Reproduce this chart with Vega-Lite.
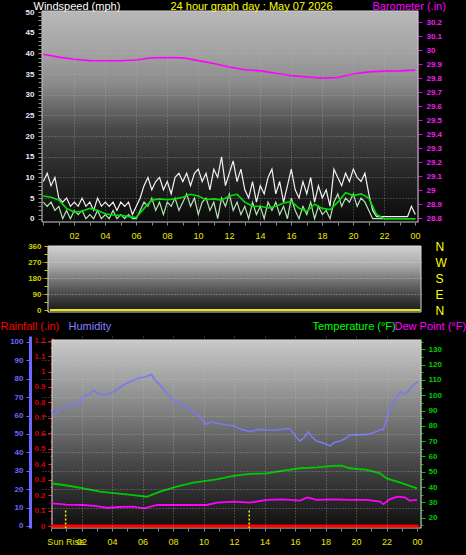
{
 "$schema": "https://vega.github.io/schema/vega-lite/v6.json",
 "background": "#000000",
 "padding": {"left": 0, "top": 0, "right": 1, "bottom": 8},
 "spacing": 24,
 "bounds": "flush",
 "config": {
  "view": {"stroke": null},
  "font": "Liberation Sans",
  "axis": {"labelFont": "Liberation Sans", "titleFont": "Liberation Sans", "labelOverlap": false, "labelFlush": false, "titleFontWeight": "normal", "labelFontWeight": "normal", "domain": false, "grid": false}
 },
 "datasets": {
  "wind": [
   {"h":0,"gust":9,"speed":4},{"h":0.25,"gust":11,"speed":3},{"h":0.5,"gust":8,"speed":4},{"h":0.75,"gust":10,"speed":2},
   {"h":1,"gust":5,"speed":3},{"h":1.25,"gust":4,"speed":0},{"h":1.5,"gust":5,"speed":2},{"h":1.75,"gust":3,"speed":0},
   {"h":2,"gust":4,"speed":2},{"h":2.25,"gust":3,"speed":1},{"h":2.5,"gust":5,"speed":2},{"h":2.75,"gust":3,"speed":0},
   {"h":3,"gust":4,"speed":1},{"h":3.25,"gust":2,"speed":0},{"h":3.5,"gust":5,"speed":2},{"h":3.75,"gust":3,"speed":0},
   {"h":4,"gust":4,"speed":1},{"h":4.25,"gust":3,"speed":0},{"h":4.5,"gust":4,"speed":2},{"h":4.75,"gust":2,"speed":0},
   {"h":5,"gust":4,"speed":1},{"h":5.25,"gust":3,"speed":0},{"h":5.5,"gust":4,"speed":1},{"h":5.75,"gust":1,"speed":0},
   {"h":6,"gust":3,"speed":0},{"h":6.25,"gust":5,"speed":2},{"h":6.5,"gust":8,"speed":4},{"h":6.75,"gust":10,"speed":3},
   {"h":7,"gust":7,"speed":5},{"h":7.25,"gust":9,"speed":2},{"h":7.5,"gust":10,"speed":4},{"h":7.75,"gust":7,"speed":1},
   {"h":8,"gust":9,"speed":4},{"h":8.25,"gust":6,"speed":3},{"h":8.5,"gust":10,"speed":5},{"h":8.75,"gust":11,"speed":2},
   {"h":9,"gust":9,"speed":4},{"h":9.25,"gust":11,"speed":6},{"h":9.5,"gust":8,"speed":3},{"h":9.75,"gust":11,"speed":5},
   {"h":10,"gust":12,"speed":1},{"h":10.25,"gust":9,"speed":4},{"h":10.5,"gust":11,"speed":5},{"h":10.75,"gust":7,"speed":2},
   {"h":11,"gust":12,"speed":4},{"h":11.25,"gust":10,"speed":0},{"h":11.5,"gust":15,"speed":5},{"h":11.75,"gust":8,"speed":3},
   {"h":12,"gust":11,"speed":6},{"h":12.25,"gust":14,"speed":2},{"h":12.5,"gust":9,"speed":4},{"h":12.75,"gust":12,"speed":1},
   {"h":13,"gust":7,"speed":3},{"h":13.25,"gust":5,"speed":0},{"h":13.5,"gust":9,"speed":4},{"h":13.75,"gust":4,"speed":1},
   {"h":14,"gust":8,"speed":3},{"h":14.25,"gust":6,"speed":0},{"h":14.5,"gust":10,"speed":4},{"h":14.75,"gust":12,"speed":2},
   {"h":15,"gust":6,"speed":4},{"h":15.25,"gust":9,"speed":1},{"h":15.5,"gust":4,"speed":3},{"h":15.75,"gust":8,"speed":0},
   {"h":16,"gust":12,"speed":5},{"h":16.25,"gust":7,"speed":2},{"h":16.5,"gust":5,"speed":0},{"h":16.75,"gust":9,"speed":3},
   {"h":17,"gust":6,"speed":1},{"h":17.25,"gust":10,"speed":4},{"h":17.5,"gust":4,"speed":0},{"h":17.75,"gust":8,"speed":3},
   {"h":18,"gust":5,"speed":1},{"h":18.25,"gust":7,"speed":2},{"h":18.5,"gust":3,"speed":0},{"h":18.75,"gust":12,"speed":4},
   {"h":19,"gust":10,"speed":6},{"h":19.25,"gust":8,"speed":3},{"h":19.5,"gust":11,"speed":5},{"h":19.75,"gust":9,"speed":4},
   {"h":20,"gust":12,"speed":6},{"h":20.25,"gust":10,"speed":3},{"h":20.5,"gust":9,"speed":5},{"h":20.75,"gust":11,"speed":4},
   {"h":21,"gust":6,"speed":2},{"h":21.25,"gust":2,"speed":0},{"h":21.5,"gust":0.5,"speed":0},{"h":21.75,"gust":0.5,"speed":0},
   {"h":22,"gust":0.5,"speed":0},{"h":22.25,"gust":0.5,"speed":0},{"h":22.5,"gust":0.5,"speed":0},{"h":22.75,"gust":0.5,"speed":0},
   {"h":23,"gust":0.5,"speed":0},{"h":23.25,"gust":0.5,"speed":0},{"h":23.5,"gust":0.5,"speed":0},{"h":23.75,"gust":3,"speed":0},
   {"h":24,"gust":1,"speed":0}
  ],
  "avg": [
   {"h":0,"avg":5.5},{"h":0.5,"avg":5.2},{"h":1,"avg":4.5},{"h":1.5,"avg":2.5},{"h":2,"avg":1.6},{"h":2.5,"avg":1.8},
   {"h":3,"avg":2.5},{"h":3.5,"avg":2.0},{"h":4,"avg":1.2},{"h":4.5,"avg":0.9},{"h":5,"avg":0.8},{"h":5.5,"avg":0.5},
   {"h":6,"avg":0.3},{"h":6.5,"avg":2.5},{"h":7,"avg":4.5},{"h":7.5,"avg":4.8},{"h":8,"avg":4.6},{"h":8.5,"avg":4.8},
   {"h":9,"avg":5.2},{"h":9.5,"avg":5.9},{"h":10,"avg":5.5},{"h":10.5,"avg":4.6},{"h":11,"avg":4.8},{"h":11.5,"avg":4.5},
   {"h":12,"avg":5.5},{"h":12.5,"avg":5.9},{"h":13,"avg":4.0},{"h":13.5,"avg":3.0},{"h":14,"avg":3.0},{"h":14.5,"avg":2.6},
   {"h":15,"avg":3.0},{"h":15.5,"avg":3.8},{"h":16,"avg":4.2},{"h":16.5,"avg":2.5},{"h":17,"avg":1.8},{"h":17.5,"avg":3.5},
   {"h":18,"avg":2.5},{"h":18.5,"avg":2.2},{"h":19,"avg":4.0},{"h":19.5,"avg":6.3},{"h":20,"avg":5.6},{"h":20.5,"avg":6.0},
   {"h":21,"avg":5.0},{"h":21.5,"avg":1.0},{"h":22,"avg":0},{"h":23,"avg":0},{"h":24,"avg":0}
  ],
  "baro": [
   {"h":0,"baro":29.97},{"h":1,"baro":29.95},{"h":2,"baro":29.935},{"h":3,"baro":29.925},{"h":4,"baro":29.924},
   {"h":5,"baro":29.924},{"h":6,"baro":29.93},{"h":7,"baro":29.945},{"h":8,"baro":29.947},{"h":9,"baro":29.945},
   {"h":10,"baro":29.925},{"h":11,"baro":29.905},{"h":12,"baro":29.88},{"h":13,"baro":29.86},{"h":14,"baro":29.852},
   {"h":15,"baro":29.835},{"h":16,"baro":29.818},{"h":17,"baro":29.808},{"h":18,"baro":29.8},{"h":19,"baro":29.805},
   {"h":20,"baro":29.83},{"h":21,"baro":29.845},{"h":22,"baro":29.85},{"h":23,"baro":29.852},{"h":24,"baro":29.857}
  ],
  "dir": [
   {"h":0.45,"dir":0},{"h":6,"dir":0},{"h":12,"dir":0},{"h":18,"dir":0},{"h":24.35,"dir":0}
  ],
  "hum": [
   {"h":0,"hum":62.1},{"h":0.3,"hum":61},{"h":0.59,"hum":63.6},{"h":0.9,"hum":64.5},{"h":1.25,"hum":66.7},{"h":1.5,"hum":66},
   {"h":1.79,"hum":65.4},{"h":2.12,"hum":70.3},{"h":2.5,"hum":71.5},{"h":2.78,"hum":73.9},{"h":3.1,"hum":72},{"h":3.43,"hum":71.2},
   {"h":3.87,"hum":72.1},{"h":4.2,"hum":73.5},{"h":4.52,"hum":75.2},{"h":4.85,"hum":77},{"h":5.18,"hum":78.4},{"h":5.5,"hum":79.6},
   {"h":5.84,"hum":80.6},{"h":6.2,"hum":81},{"h":6.49,"hum":82.1},{"h":6.6,"hum":82.4},{"h":6.8,"hum":79.5},{"h":7.15,"hum":76.6},
   {"h":7.6,"hum":72},{"h":8.03,"hum":68.5},{"h":8.5,"hum":66},{"h":8.9,"hum":64.9},{"h":9.3,"hum":62},{"h":9.77,"hum":59.4},
   {"h":10.1,"hum":55.3},{"h":10.5,"hum":56.5},{"h":10.86,"hum":55.8},{"h":11.4,"hum":55},{"h":11.96,"hum":54.5},{"h":12.5,"hum":52.5},
   {"h":13.05,"hum":51.3},{"h":13.6,"hum":52.5},{"h":14.14,"hum":52.2},{"h":14.7,"hum":52},{"h":15.24,"hum":52.7},{"h":15.67,"hum":53},
   {"h":16,"hum":49},{"h":16.33,"hum":46.2},{"h":16.6,"hum":48},{"h":16.87,"hum":51.3},{"h":17.1,"hum":48.5},{"h":17.42,"hum":46.2},
   {"h":17.9,"hum":45},{"h":18.3,"hum":43.6},{"h":18.6,"hum":45.5},{"h":18.95,"hum":46.2},{"h":19.3,"hum":47.5},{"h":19.6,"hum":49.5},
   {"h":20.1,"hum":49.5},{"h":20.7,"hum":49.8},{"h":21.1,"hum":50.5},{"h":21.57,"hum":52.2},{"h":21.8,"hum":52.5},{"h":22,"hum":58},
   {"h":22.23,"hum":64},{"h":22.55,"hum":68.5},{"h":22.9,"hum":73},{"h":23.2,"hum":71.6},{"h":23.45,"hum":73.5},{"h":23.65,"hum":75.7},
   {"h":23.9,"hum":77.5},{"h":24.05,"hum":78.4}
  ],
  "temp": [
   {"h":0,"temp":42.5},{"h":1.25,"temp":40.7},{"h":2.12,"temp":39.2},{"h":3.21,"temp":37},{"h":4.3,"temp":35.9},
   {"h":5.4,"temp":34.8},{"h":6.27,"temp":33.7},{"h":7.15,"temp":37},{"h":8.24,"temp":40.3},{"h":9.33,"temp":42.9},
   {"h":10.86,"temp":45.1},{"h":11.96,"temp":47.3},{"h":13.05,"temp":48.6},{"h":14.14,"temp":49},{"h":15.24,"temp":50.7},
   {"h":16.33,"temp":52.3},{"h":17.42,"temp":52.9},{"h":18.51,"temp":53.8},{"h":19.06,"temp":54},{"h":19.6,"temp":52.3},
   {"h":20.7,"temp":51.2},{"h":21.57,"temp":49},{"h":22,"temp":45.7},{"h":22.9,"temp":42.9},{"h":24,"temp":39.2}
  ],
  "dew": [
   {"h":0,"dew":29.4},{"h":0.5,"dew":29.0},{"h":1,"dew":28.6},{"h":2.12,"dew":28.3},{"h":3,"dew":27.5},{"h":3.65,"dew":26.5},
   {"h":4.5,"dew":27.0},{"h":5.4,"dew":27.2},{"h":6.1,"dew":26.1},{"h":6.97,"dew":28.3},{"h":8.7,"dew":28.3},{"h":10.2,"dew":28.3},
   {"h":10.9,"dew":29.8},{"h":11.96,"dew":30.5},{"h":13.05,"dew":29.8},{"h":14.14,"dew":31.6},{"h":15.24,"dew":32},{"h":16.33,"dew":31.2},
   {"h":16.8,"dew":33.3},{"h":17.42,"dew":31.6},{"h":18.51,"dew":32},{"h":19.6,"dew":31.6},{"h":20.7,"dew":31.6},{"h":21.57,"dew":30.5},
   {"h":21.8,"dew":28.8},{"h":22.2,"dew":32},{"h":22.7,"dew":33.7},{"h":23.2,"dew":33.3},{"h":23.5,"dew":31.2},{"h":24,"dew":31.6}
  ],
  "rain": [
   {"h":0,"rain":0},{"h":6,"rain":0},{"h":12,"rain":0},{"h":18,"rain":0},{"h":24.1,"rain":0}
  ],
  "sun": [
   {"h":0.96,"event":"Sun Rise"},{"h":13.0,"event":""}
  ]
 },
 "vconcat": [
  {
   "width": 376, "height": 211,
   "layer": [
    {"layer": [
     {"data": {"values": [{}]},
      "mark": {"type": "rect", "fill": {"gradient": "linear", "x1": 0, "y1": 0, "x2": 0, "y2": 1, "stops": [{"offset": 0, "color": "#b8b8b8"}, {"offset": 0.2, "color": "#a2a2a2"}, {"offset": 0.35, "color": "#8a8a8a"}, {"offset": 0.56, "color": "#484848"}, {"offset": 0.8, "color": "#222222"}, {"offset": 1, "color": "#0a0a0a"}]}, "stroke": "#cfcfcf", "strokeWidth": 1},
      "encoding": {
       "x": {"datum": -0.084, "type": "quantitative", "scale": {"domain": [-0.084, 24.174], "nice": false, "zero": false},
        "axis": {"orient": "bottom", "values": [0,1,2,3,4,5,6,7,8,9,10,11,12,13,14,15,16,17,18,19,20,21,22,23,24], "labels": false, "tickSize": 3, "tickColor": "#8c8c8c", "grid": true, "gridColor": "#b4b4b4", "gridDash": [1,2], "gridOpacity": {"condition": {"test": "datum.value % 2 == 0 && datum.value > 0 && datum.value < 24", "value": 0.55}, "value": 0}, "zindex": 1,
         "title": "24 hour graph day : May 07 2026", "titleColor": "#ffff00", "titleFontSize": 11, "titleAngle": 0, "titleAlign": "center", "titleBaseline": "middle", "titleX": 209, "titleY": -216}},
       "x2": {"datum": 24.174},
       "y": {"datum": -0.8, "type": "quantitative", "scale": {"domain": [-0.8, 50.29], "nice": false, "zero": false},
        "axis": {"orient": "left", "values": [0,1,2,3,4,5,6,7,8,9,10,11,12,13,14,15,16,17,18,19,20,21,22,23,24,25,26,27,28,29,30,31,32,33,34,35,36,37,38,39,40,41,42,43,44,45,46,47,48,49,50], "labelExpr": "datum.value % 5 == 0 ? datum.label : ''", "labelColor": "#e4eaff", "labelFontSize": 8, "labelFontWeight": "bold", "labelPadding": 4, "tickSize": 4, "tickColor": "#8c8c8c", "grid": true, "gridColor": "#b4b4b4", "gridDash": [1,2], "gridOpacity": {"condition": {"test": "datum.value % 5 == 0 && datum.value > 0", "value": 0.55}, "value": 0}, "zindex": 1,
         "title": "Windspeed (mph)", "titleColor": "#ffffff", "titleFontSize": 11, "titleAngle": 0, "titleAlign": "left", "titleBaseline": "middle", "titleX": -9, "titleY": -5}},
       "y2": {"datum": 50.29}
      }},
     {"data": {"name": "wind"}, "mark": {"type": "line", "color": "#f2f2f2", "strokeWidth": 1.2},
      "encoding": {"x": {"field": "h", "type": "quantitative", "scale": {"domain": [-0.084, 24.174], "nice": false, "zero": false}, "axis": null},
       "y": {"field": "gust", "type": "quantitative", "scale": {"domain": [-0.8, 50.29], "nice": false, "zero": false}, "axis": null}}},
     {"data": {"name": "wind"}, "mark": {"type": "line", "color": "#b4e6b4", "strokeWidth": 1.2},
      "encoding": {"x": {"field": "h", "type": "quantitative", "scale": {"domain": [-0.084, 24.174], "nice": false, "zero": false}, "axis": null},
       "y": {"field": "speed", "type": "quantitative", "scale": {"domain": [-0.8, 50.29], "nice": false, "zero": false}, "axis": null}}},
     {"data": {"name": "avg"}, "mark": {"type": "line", "color": "#00e000", "strokeWidth": 1.6},
      "encoding": {"x": {"field": "h", "type": "quantitative", "scale": {"domain": [-0.084, 24.174], "nice": false, "zero": false}, "axis": null},
       "y": {"field": "avg", "type": "quantitative", "scale": {"domain": [-0.8, 50.29], "nice": false, "zero": false}, "axis": null}}}
    ],
    "resolve": {"axis": {"x": "independent", "y": "independent"}}},
    {"data": {"name": "baro"}, "mark": {"type": "line", "color": "#ff00ff", "strokeWidth": 1.6},
     "encoding": {"x": {"field": "h", "type": "quantitative", "scale": {"domain": [-0.084, 24.174], "nice": false, "zero": false}, "axis": null},
      "y": {"field": "baro", "type": "quantitative", "scale": {"domain": [28.774, 30.279], "nice": false, "zero": false},
       "axis": {"orient": "right", "values": [28.8,28.9,29,29.1,29.2,29.3,29.4,29.5,29.6,29.7,29.8,29.9,30,30.1,30.2], "format": ".1~f", "labelColor": "#f020f0", "labelFontSize": 8, "labelFontWeight": "bold", "labelPadding": 4, "tickSize": 4, "tickColor": "#e000e0", "domain": true, "domainColor": "#e000e0", "domainDash": [1,2],
        "title": "Barometer (.in)", "titleColor": "#ff00ff", "titleFontSize": 11, "titleAngle": 0, "titleAlign": "left", "titleBaseline": "middle", "titleX": -46, "titleY": -5}}}}
   ],
   "resolve": {"scale": {"y": "independent"}, "axis": {"x": "independent", "y": "independent"}}
  },
  {
   "width": 379, "height": 66,
   "layer": [
    {"data": {"values": [{}]},
     "mark": {"type": "rect", "fill": {"gradient": "linear", "x1": 0, "y1": 0, "x2": 0, "y2": 1, "stops": [{"offset": 0, "color": "#d0d0d0"}, {"offset": 0.3, "color": "#a8a8a8"}, {"offset": 0.55, "color": "#6e6e6e"}, {"offset": 0.8, "color": "#3a3a3a"}, {"offset": 1, "color": "#181818"}]}, "stroke": "#d8d8d8", "strokeWidth": 1},
     "encoding": {
      "x": {"datum": 0.32, "type": "quantitative", "scale": {"domain": [-0.065, 24.39], "nice": false, "zero": false},
       "axis": {"orient": "top", "values": [2,4,6,8,10,12,14,16,18,20,22,24], "labelExpr": "datum.value % 2 == 0 && datum.value > 0 ? (datum.value == 24 ? '00' : (datum.value < 10 ? '0' + datum.value : '' + datum.value)) : ''", "labelColor": "#e8e800", "labelFontSize": 9, "ticks": false, "labelPadding": 6, "title": null}},
      "x2": {"datum": 24.39},
      "y": {"datum": -11.25, "type": "quantitative", "scale": {"domain": [-11.25, 360], "nice": false, "zero": false},
       "axis": {"orient": "left", "offset": -6, "values": [0,45,90,135,180,225,270,315,360], "labelExpr": "datum.value % 90 == 0 ? datum.label : ''", "labelColor": "#d0d000", "labelFontSize": 8, "labelFontWeight": "bold", "labelPadding": 3, "tickSize": 4, "tickColor": "#c8c800", "grid": true, "gridColor": "#e8e8e8", "gridDash": [1,2], "gridOpacity": {"condition": {"test": "datum.value % 90 == 0 && datum.value > 0 && datum.value < 360", "value": 0.6}, "value": 0}, "zindex": 1, "title": null}},
      "y2": {"datum": 360}
     }},
    {"data": {"name": "dir"}, "mark": {"type": "line", "color": "#e8e800", "strokeWidth": 2},
     "encoding": {"x": {"field": "h", "type": "quantitative", "scale": {"domain": [-0.065, 24.39], "nice": false, "zero": false}, "axis": null},
      "y": {"field": "dir", "type": "quantitative", "scale": {"domain": [-11.25, 360], "nice": false, "zero": false},
       "axis": {"orient": "right", "values": [0,90,180,270,360], "labelExpr": "datum.value == 90 ? 'E' : (datum.value == 180 ? 'S' : (datum.value == 270 ? 'W' : 'N'))", "labelColor": "#ffff00", "labelFontSize": 12, "ticks": false, "labelPadding": 14, "title": null}}}}
   ],
   "resolve": {"axis": {"x": "independent", "y": "independent"}}
  },
  {
   "width": 379, "height": 192,
   "layer": [
    {"layer": [
     {"data": {"values": [{}]},
      "mark": {"type": "rect", "fill": {"gradient": "linear", "x1": 0, "y1": 0, "x2": 0, "y2": 1, "stops": [{"offset": 0, "color": "#cacaca"}, {"offset": 0.32, "color": "#8c8c8c"}, {"offset": 0.51, "color": "#666666"}, {"offset": 0.64, "color": "#4a4a4a"}, {"offset": 0.85, "color": "#282828"}, {"offset": 1, "color": "#101010"}]}, "stroke": "#d8d8d8", "strokeWidth": 1},
      "encoding": {
       "x": {"datum": 0.066, "type": "quantitative", "scale": {"domain": [-0.59, 24.26], "nice": false, "zero": false},
        "axis": {"orient": "bottom", "values": [0,1,2,3,4,5,6,7,8,9,10,11,12,13,14,15,16,17,18,19,20,21,22,23,24], "labelExpr": "datum.value % 2 == 0 && datum.value > 0 ? (datum.value == 24 ? '00' : (datum.value < 10 ? '0' + datum.value : '' + datum.value)) : ''", "labelColor": "#e8e800", "labelFontSize": 9, "labelPadding": 6, "tickSize": 3, "tickColor": "#8c8c8c", "grid": true, "gridColor": "#c0c0c0", "gridDash": [1,2], "gridOpacity": {"condition": {"test": "datum.value % 2 == 0 && datum.value > 0 && datum.value < 24", "value": 0.55}, "value": 0}, "zindex": 1,
         "title": "Dew Point (°F)", "titleColor": "#ff00ff", "titleFontSize": 11, "titleAngle": 0, "titleAlign": "left", "titleBaseline": "middle", "titleX": 352, "titleY": -202}},
       "x2": {"datum": 24.26},
       "y": {"datum": -1.09, "type": "quantitative", "scale": {"domain": [-1.09, 103.26], "nice": false, "zero": false},
        "axis": {"orient": "left", "values": [10,20,30,40,50,60,70,80,90,100], "labels": false, "ticks": false, "grid": true, "gridColor": "#c8c8c8", "gridDash": [1,2], "gridOpacity": 0.5, "zindex": 1, "title": null}},
       "y2": {"datum": 101.1}
      }},
     {"data": {"name": "hum"}, "mark": {"type": "line", "color": "#7878f0", "strokeWidth": 1.6},
      "encoding": {"x": {"field": "h", "type": "quantitative", "scale": {"domain": [-0.59, 24.26], "nice": false, "zero": false}, "axis": null},
       "y": {"field": "hum", "type": "quantitative", "scale": {"domain": [-1.09, 103.26], "nice": false, "zero": false},
        "axis": {"orient": "left", "offset": 12, "values": [0,10,20,30,40,50,60,70,80,90,100], "labelColor": "#6a6aff", "labelFontSize": 8, "labelFontWeight": "bold", "labelPadding": 3, "tickSize": 4, "tickColor": "#6a6aff", "domain": true, "domainColor": "#6a6aff", "domainWidth": 3,
         "title": "Humidity", "titleColor": "#8080ff", "titleFontSize": 11, "titleAngle": 0, "titleAlign": "left", "titleBaseline": "middle", "titleX": 38, "titleY": -10}}}}
    ],
    "resolve": {"axis": {"x": "independent", "y": "independent"}}},
    {"layer": [
     {"data": {"name": "rain"}, "mark": {"type": "line", "color": "#ff0000", "strokeWidth": 3},
      "encoding": {"x": {"field": "h", "type": "quantitative", "scale": {"domain": [-0.59, 24.26], "nice": false, "zero": false}, "axis": null},
       "y": {"field": "rain", "type": "quantitative", "scale": {"domain": [-0.0129, 1.2298], "nice": false, "zero": false},
        "axis": {"orient": "left", "offset": -10, "values": [0,0.05,0.1,0.15,0.2,0.25,0.3,0.35,0.4,0.45,0.5,0.55,0.6,0.65,0.7,0.75,0.8,0.85,0.9,0.95,1,1.05,1.1,1.15,1.2], "labelExpr": "abs(round(datum.value * 20) % 2) == 0 ? format(datum.value, '.1~f') : ''", "labelColor": "#d00000", "labelFontSize": 8, "labelFontWeight": "bold", "labelPadding": 3, "tickSize": {"condition": {"test": "abs(round(datum.value * 20) % 2) == 0", "value": 4}, "value": 2}, "tickColor": "#ff2020", "domain": true, "domainColor": "#ff2020", "domainDash": [2,2], "domainWidth": 2,
         "title": "Rainfall (.in)", "titleColor": "#ff0000", "titleFontSize": 11, "titleAngle": 0, "titleAlign": "left", "titleBaseline": "middle", "titleX": -52, "titleY": -10}}}},
     {"data": {"name": "sun"}, "mark": {"type": "rule", "color": "#f0f000", "strokeDash": [2,2], "strokeWidth": 1.5},
      "encoding": {"x": {"field": "h", "type": "quantitative", "scale": {"domain": [-0.59, 24.26], "nice": false, "zero": false}, "axis": null},
       "y": {"datum": 0.1, "type": "quantitative", "scale": {"domain": [-0.0129, 1.2298], "nice": false, "zero": false}, "axis": null},
       "y2": {"datum": -0.0129}}},
     {"data": {"name": "sun"}, "mark": {"type": "text", "color": "#e8e800", "fontSize": 9, "align": "center", "baseline": "middle"},
      "encoding": {"x": {"field": "h", "type": "quantitative", "scale": {"domain": [-0.59, 24.26], "nice": false, "zero": false}, "axis": null},
       "y": {"datum": -0.1036, "type": "quantitative", "scale": {"domain": [-0.0129, 1.2298], "nice": false, "zero": false}, "axis": null},
       "text": {"field": "event"}}}
    ],
    "resolve": {"axis": {"x": "independent", "y": "independent"}}},
    {"layer": [
     {"data": {"name": "temp"}, "mark": {"type": "line", "color": "#00c800", "strokeWidth": 1.8},
      "encoding": {"x": {"field": "h", "type": "quantitative", "scale": {"domain": [-0.59, 24.26], "nice": false, "zero": false}, "axis": null},
       "y": {"field": "temp", "type": "quantitative", "scale": {"domain": [13.27, 138.68], "nice": false, "zero": false},
        "axis": {"orient": "right", "values": [15,20,25,30,35,40,45,50,55,60,65,70,75,80,85,90,95,100,105,110,115,120,125,130,135], "labelExpr": "datum.value % 10 == 0 ? datum.label : ''", "labelColor": "#00cc00", "labelFontSize": 8, "labelFontWeight": "bold", "labelPadding": 3, "tickSize": {"condition": {"test": "datum.value % 10 == 0", "value": 4}, "value": 2}, "tickColor": "#00c000", "domain": true, "domainColor": "#00c000", "domainDash": [1,2],
         "title": "Temperature (°F)", "titleColor": "#00ff00", "titleFontSize": 11, "titleAngle": 0, "titleAlign": "left", "titleBaseline": "middle", "titleX": -109, "titleY": -10}}}},
     {"data": {"name": "dew"}, "mark": {"type": "line", "color": "#ff00ff", "strokeWidth": 1.8},
      "encoding": {"x": {"field": "h", "type": "quantitative", "scale": {"domain": [-0.59, 24.26], "nice": false, "zero": false}, "axis": null},
       "y": {"field": "dew", "type": "quantitative", "scale": {"domain": [13.27, 138.68], "nice": false, "zero": false}, "axis": null}}}
    ],
    "resolve": {"axis": {"x": "independent", "y": "independent"}}}
   ],
   "resolve": {"scale": {"y": "independent"}, "axis": {"x": "independent", "y": "independent"}}
  }
 ]
}
